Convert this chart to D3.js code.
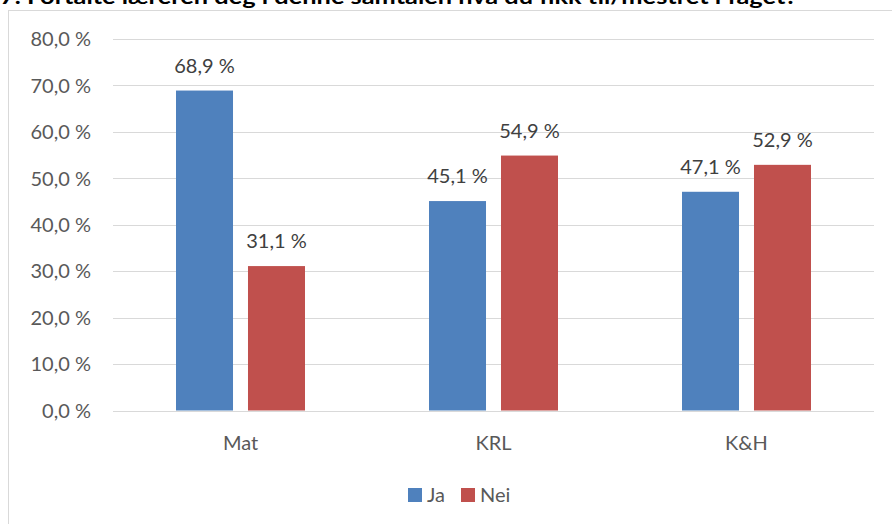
<!DOCTYPE html>
<html>
<head>
<meta charset="utf-8">
<script src="https://cdn.jsdelivr.net/npm/d3@7"></script>
<style>
    body { margin: 0; background: #fff; }
    svg { display: block; font-family: Lato, 'Open Sans', sans-serif; }
</style>
</head>
<body>
<svg id="chart" width="892" height="524"></svg>
<script>
const title = '7. Fortalte læreren deg i denne samtalen hva du fikk til/mestret i faget?'
const categories = ['Mat', 'KRL', 'K&H']
const seriesNames = ['Ja', 'Nei']
const jaValues = [68.9, 45.1, 47.1]
const neiValues = [31.1, 54.9, 52.9]
const yTicks = [0, 10, 20, 30, 40, 50, 60, 70, 80]
const colors = ['#4f81bd', '#c0504d']

const locale = d3.formatLocale({ decimal: ',', thousands: ' ', grouping: [3], currency: ['', ''] })
const pct = v => locale.format('.1f')(v) + ' %'

const svg = d3.select('#chart')

// title (cut off at the top in the original)
svg.append('text')
    .attr('x', 0)
    .attr('y', 4)
    .attr('font-weight', 'bold')
    .attr('font-size', 21)
    .attr('fill', '#000')
    .attr('textLength', 797)
    .attr('lengthAdjust', 'spacingAndGlyphs')
    .text(title)

// chart frame
svg.append('rect')
    .attr('x', 8.5)
    .attr('y', 10.5)
    .attr('width', 1000)
    .attr('height', 700)
    .attr('fill', 'none')
    .attr('stroke', '#d9d9d9')

const y = d3.scaleLinear()
    .domain([0, 80])
    .range([410.5, 39])

const x0 = d3.scaleBand()
    .domain(categories)
    .range([114, 873])

const x1 = d3.scaleBand()
    .domain(seriesNames)
    .range([62, 191])
    .paddingInner(0.208)

// gridlines
svg.append('g').selectAll('line')
    .data(yTicks)
    .enter().append('line')
    .attr('x1', 113)
    .attr('x2', 874)
    .attr('y1', d => Math.round(y(d)) + 0.5)
    .attr('y2', d => Math.round(y(d)) + 0.5)
    .attr('stroke', '#d9d9d9')
    .attr('stroke-width', 1.2)

// y tick labels
svg.append('g').selectAll('text')
    .data(yTicks)
    .enter().append('text')
    .attr('x', 91)
    .attr('y', d => y(d))
    .attr('dy', '0.36em')
    .attr('text-anchor', 'end')
    .attr('font-size', 20)
    .attr('fill', '#595959')
    .text(d => pct(d))

// bars
const rows = categories.map((c, i) => ({ cat: c, values: [jaValues[i], neiValues[i]] }))

const groups = svg.append('g').selectAll('g')
    .data(rows)
    .enter().append('g')
    .attr('transform', d => `translate(${x0(d.cat)},0)`)

groups.selectAll('rect')
    .data(d => d.values.map((v, i) => ({ name: seriesNames[i], value: v, i: i })))
    .enter().append('rect')
    .attr('x', d => x1(d.name))
    .attr('y', d => y(d.value))
    .attr('width', x1.bandwidth())
    .attr('height', d => y(0) - y(d.value))
    .attr('fill', d => colors[d.i])

groups.selectAll('text')
    .data(d => d.values.map((v, i) => ({ name: seriesNames[i], value: v })))
    .enter().append('text')
    .attr('x', d => x1(d.name) + x1.bandwidth() / 2)
    .attr('y', d => y(d.value) - 18)
    .attr('text-anchor', 'middle')
    .attr('font-size', 20)
    .attr('fill', '#404040')
    .text(d => pct(d.value))

// category labels
svg.append('g').selectAll('text')
    .data(categories)
    .enter().append('text')
    .attr('x', d => x0(d) + x0.bandwidth() / 2)
    .attr('y', 450)
    .attr('text-anchor', 'middle')
    .attr('font-size', 20)
    .attr('fill', '#595959')
    .text(d => d)

// legend
const legendX = [408, 461]
const legend = svg.append('g').selectAll('g')
    .data(seriesNames)
    .enter().append('g')
    .attr('transform', (d, i) => `translate(${legendX[i]},488)`)

legend.append('rect')
    .attr('width', 14)
    .attr('height', 14)
    .attr('fill', (d, i) => colors[i])

legend.append('text')
    .attr('x', 19)
    .attr('y', 14)
    .attr('font-size', 20)
    .attr('fill', '#595959')
    .text(d => d)
</script>
</body>
</html>
